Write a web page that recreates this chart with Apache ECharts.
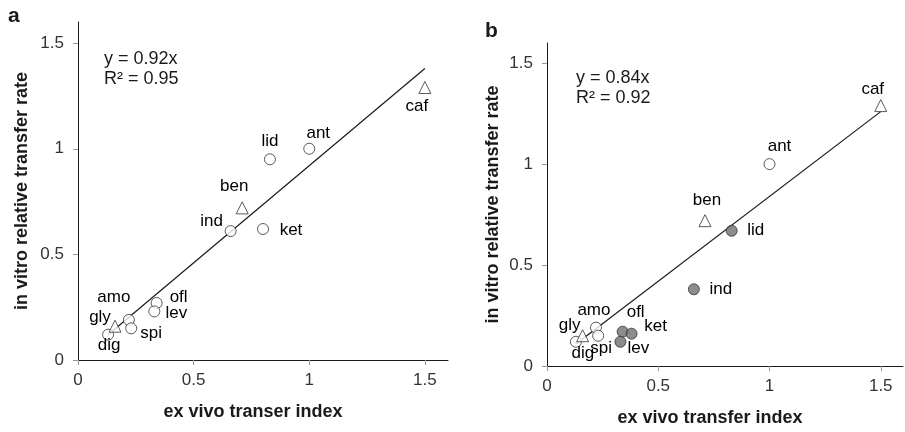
<!DOCTYPE html>
<html>
<head>
<meta charset="utf-8">
<script src="https://cdn.jsdelivr.net/npm/echarts@6/dist/echarts.min.js"></script>
<style>
  html, body { margin: 0; padding: 0; background: #fff; }
  #chart { width: 905px; height: 432px; }
</style>
</head>
<body>
<div id="chart"></div>
<script>
// Drug compounds and marker groups
const namesA = ['caf', 'ant', 'lid', 'ben', 'ind', 'ket', 'ofl', 'lev', 'amo', 'spi', 'gly', 'dig'];
const exVivoA = [1.50, 1.00, 0.83, 0.71, 0.66, 0.80, 0.34, 0.33, 0.22, 0.23, 0.16, 0.13];
const inVitroA = [1.29, 1.00, 0.95, 0.72, 0.61, 0.62, 0.27, 0.23, 0.19, 0.15, 0.16, 0.12];
const kindA = ['tri', 'open', 'open', 'tri', 'open', 'open', 'open', 'open', 'open', 'open', 'tri', 'open'];

const namesB = ['caf', 'ant', 'ben', 'lid', 'ind', 'amo', 'ofl', 'ket', 'lev', 'gly', 'dig', 'spi'];
const exVivoB = [1.50, 1.00, 0.71, 0.83, 0.66, 0.22, 0.34, 0.38, 0.33, 0.16, 0.13, 0.23];
const inVitroB = [1.29, 1.00, 0.72, 0.67, 0.38, 0.19, 0.17, 0.16, 0.12, 0.15, 0.12, 0.15];
const kindB = ['tri', 'open', 'tri', 'filled', 'filled', 'open', 'filled', 'filled', 'filled', 'tri', 'open', 'open'];

// Fitted trend lines (through origin) and their statistics
const slopeA = 0.92, r2A = '0.95';
const slopeB = 0.84, r2B = '0.92';
const fitRange = [0.13, 1.50];

const tickValues = [0, 0.5, 1, 1.5];

// Label placement relative to each marker (pixels)
const labelOffsetA = {
  caf: [-8, 19], ant: [9, -15], lid: [0, -18], ben: [-8, -22], ind: [-19, -10],
  ket: [28, 1], ofl: [22, -6], lev: [22, 2], amo: [-15, -23], spi: [20, 5],
  gly: [-15, -9], dig: [1, 11]
};
const labelOffsetB = {
  caf: [-8, -16], ant: [10, -18], ben: [2, -20], lid: [24, 0], ind: [27, 0],
  amo: [-2, -17], ofl: [13, -19], ket: [24, -7], lev: [18, 7], gly: [-13, -10],
  dig: [7, 12], spi: [3, 13]
};

const FONT = '"Liberation Sans", Arial, sans-serif';
const INK = '#1a1a1a';

function axisX(gridIndex, title, pad) {
  return {
    type: 'value', gridIndex, min: 0, max: 1.6,
    name: title, nameLocation: 'middle', nameGap: 43,
    nameTextStyle: { fontFamily: FONT, fontSize: 18, fontWeight: 'bold', color: INK, padding: pad },
    axisLine: { show: true, onZero: false, lineStyle: { color: INK, width: 1 } },
    axisTick: { show: true, length: 5, customValues: tickValues, lineStyle: { color: '#999' } },
    axisLabel: { customValues: tickValues, margin: 12, fontFamily: FONT, fontSize: 17, color: '#333' },
    splitLine: { show: false }
  };
}
function axisY(gridIndex, gap) {
  return {
    type: 'value', gridIndex, min: 0, max: 1.6,
    name: 'in vitro relative transfer rate', nameLocation: 'middle', nameGap: gap,
    nameTextStyle: { fontFamily: FONT, fontSize: 18, fontWeight: 'bold', color: INK },
    axisLine: { show: true, onZero: false, lineStyle: { color: INK, width: 1 } },
    axisTick: { show: true, length: 5, customValues: tickValues, lineStyle: { color: '#999' } },
    axisLabel: { customValues: tickValues, margin: 14, fontFamily: FONT, fontSize: 17, color: '#333' },
    splitLine: { show: false }
  };
}

const markerStyle = {
  open: { symbol: 'circle', size: 11, fill: '#fff' },
  tri: { symbol: 'triangle', size: 12, fill: '#fff' },
  filled: { symbol: 'circle', size: 11, fill: '#6f6f6f' }
};

function pointSeries(idx, names, xs, ys, kinds, offsets) {
  const out = [];
  Object.keys(markerStyle).forEach(kind => {
    const m = markerStyle[kind];
    const data = [];
    names.forEach((n, i) => {
      if (kinds[i] !== kind) return;
      data.push({ name: n, value: [xs[i], ys[i]], label: { offset: offsets[n] } });
    });
    if (!data.length) return;
    out.push({
      type: 'scatter', xAxisIndex: idx, yAxisIndex: idx, z: 3,
      symbol: m.symbol, symbolSize: m.size,
      itemStyle: { color: m.fill, borderColor: '#333', borderWidth: 1 },
      label: {
        show: true, position: 'inside', formatter: '{b}',
        fontFamily: FONT, fontSize: 17, color: '#000', opacity: 1, textBorderWidth: 0,
        align: 'center', verticalAlign: 'middle'
      },
      emphasis: { disabled: true },
      data
    });
  });
  return out;
}

function fitSeries(idx, slope) {
  return {
    type: 'line', xAxisIndex: idx, yAxisIndex: idx, z: 2,
    symbol: 'none', silent: true,
    lineStyle: { color: INK, width: 1.2 },
    data: fitRange.map(x => [x, slope * x])
  };
}

function textEl(left, top, text, size, weight) {
  return {
    type: 'text', left, top,
    style: { text, fontFamily: FONT, fontSize: size, fontWeight: weight || 'normal', fill: INK, lineHeight: 20 }
  };
}

const chart = echarts.init(document.getElementById('chart'), null, { renderer: 'canvas' });
chart.setOption({
  animation: false,
  backgroundColor: '#fff',
  grid: [
    { left: 78, top: 22, width: 370, height: 338 },
    { left: 547, top: 43, width: 356, height: 323 }
  ],
  xAxis: [axisX(0, 'ex vivo transer index', [0, 20, 0, 0]), axisX(1, 'ex vivo transfer index', [0, 30, 0, 0])],
  yAxis: [axisY(0, 47), axisY(1, 45)],
  series: [
    fitSeries(0, slopeA),
    fitSeries(1, slopeB),
    ...pointSeries(0, namesA, exVivoA, inVitroA, kindA, labelOffsetA),
    ...pointSeries(1, namesB, exVivoB, inVitroB, kindB, labelOffsetB)
  ],
  graphic: [
    textEl(8, 6, 'a', 21, 'bold'),
    textEl(485, 21, 'b', 21, 'bold'),
    textEl(104, 49, 'y = ' + slopeA + 'x\nR² = ' + r2A, 18),
    textEl(576, 68, 'y = ' + slopeB + 'x\nR² = ' + r2B, 18)
  ]
});
</script>
</body>
</html>
